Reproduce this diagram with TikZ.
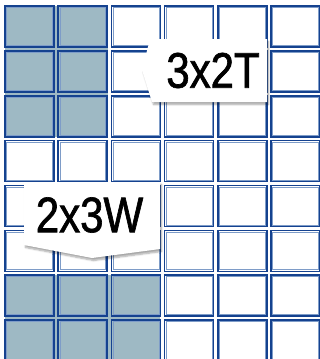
\documentclass[tikz,border=0pt]{standalone}
\usepackage{fontspec}
\font\calloutfont="Liberation Sans:embolden=1.3;extend=0.84" at 50pt
\usetikzlibrary{shadows.blur,positioning}

\definecolor{cellblue}{HTML}{15428F}
\definecolor{celllight}{HTML}{7E9CC8}
\definecolor{cellfill}{HTML}{9EB9C4}

\tikzset{
    cellbox/.style={draw=cellblue, line width=1.6pt},
    cellinner/.style={draw=celllight, line width=0.6pt},
    callout/.style={fill=white, blur shadow={shadow blur steps=6, shadow xshift=1.5pt, shadow yshift=-2.5pt, shadow opacity=35}},
    callouttext/.style={inner sep=0pt, font=\calloutfont},
}

\begin{document}
\begin{tikzpicture}[x=1pt, y=-1pt]
        \useasboundingbox (0,0) rectangle (320,359);

        % Shaded blocks
        \fill[cellfill] (5,6) rectangle (108,137);
        \fill[cellfill] (5,275) rectangle (160,359);

        % Grid of cells
        \foreach \i in {0,...,5} {
            \foreach \j in {0,...,7} {
                \draw[cellbox] ({5+53.2*\i},{6+44.86*\j}) rectangle ++(49,41);
                \draw[cellinner] ({6.6+53.2*\i},{7.6+44.86*\j}) rectangle ++(45.8,37.8);
            }
        }

        % Callout 3x2T
        \fill[callout] (150,39) -- (267,39) -- (267,102) -- (152,102) -- (142,70) -- cycle;
        \node[callouttext] (tall) at (213,70.5) {3x2T};

        % Callout 2x3W
        \fill[callout] (24,182) -- (160,182) -- (160,249) -- (92,258) -- (24,245) -- cycle;
        \node[callouttext] (wide) at (89.5,215) {2x3W};

\end{tikzpicture}
\end{document}
